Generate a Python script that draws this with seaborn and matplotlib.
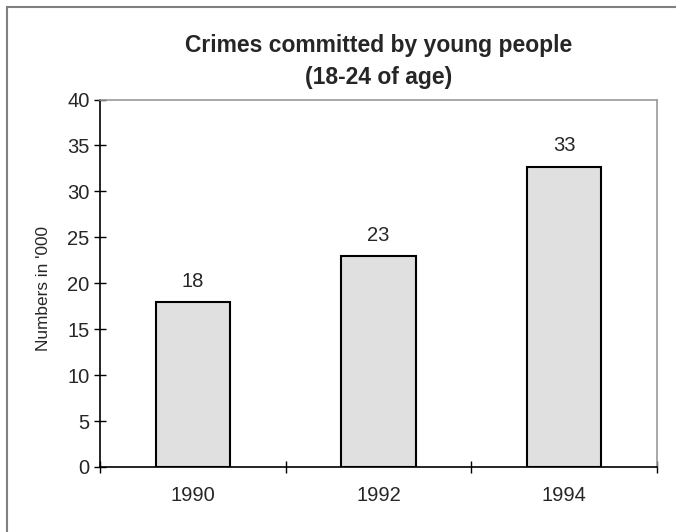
import matplotlib
matplotlib.use("Agg")
import matplotlib.pyplot as plt
from matplotlib.patches import Rectangle
from matplotlib.ticker import FixedLocator, MultipleLocator
import seaborn as sns
import pandas as pd

# Crimes committed by young people (thousands)
years = ["1990", "1992", "1994"]
crimes = [18, 23, 32.7]

sns.set_style("white")
plt.rcParams["font.family"] = ["Liberation Sans", "DejaVu Sans"]

df = pd.DataFrame({"year": years, "crimes": crimes})

fig = plt.figure(figsize=(6.76, 5.32), dpi=100)
ax = fig.add_axes([100 / 676, 1 - 467 / 532, 557 / 676, (467 - 99.5) / 532])

sns.barplot(data=df, x="year", y="crimes", color="#e0e0e0", edgecolor="black",
            linewidth=1.5, width=0.4, saturation=1, ax=ax)

ax.set_xlim(-0.5, len(years) - 0.5)
ax.set_ylim(0, 40)
ax.yaxis.set_major_locator(MultipleLocator(5))

# value labels above each bar
ax.bar_label(ax.containers[0], fmt="%.0f", padding=8, fontsize=14.5)

ax.set_title("Crimes committed by young people\n(18-24 of age)",
             fontsize=16.5, fontweight="bold", pad=11.5, linespacing=1.45)
ax.set_xlabel("")
ax.set_ylabel("Numbers in '000", fontsize=12.4)
ax.yaxis.set_label_coords(-0.088, 0.485)

ax.tick_params(axis="both", labelsize=14.5)
ax.tick_params(axis="x", which="major", length=0, pad=14)
ax.tick_params(axis="y", which="major", direction="inout", length=9, width=1,
               color="black", left=True, pad=3)
ax.xaxis.set_minor_locator(FixedLocator([-0.5, 0.5, 1.5, 2.5]))
ax.tick_params(axis="x", which="minor", direction="inout", length=9, width=1,
               color="black", bottom=True)

for side in ("left", "bottom"):
    ax.spines[side].set_color("black")
    ax.spines[side].set_linewidth(1.2)
for side in ("top", "right"):
    ax.spines[side].set_color("#9a9a9a")
    ax.spines[side].set_linewidth(1.2)

# outer frame of the chart area
fig.patches.append(Rectangle((7 / 676, -0.1), 1.2, 1.1 - 7 / 532,
                             transform=fig.transFigure, fill=False,
                             edgecolor="#808080", linewidth=1.5))

fig.savefig("out.png", dpi=100)
